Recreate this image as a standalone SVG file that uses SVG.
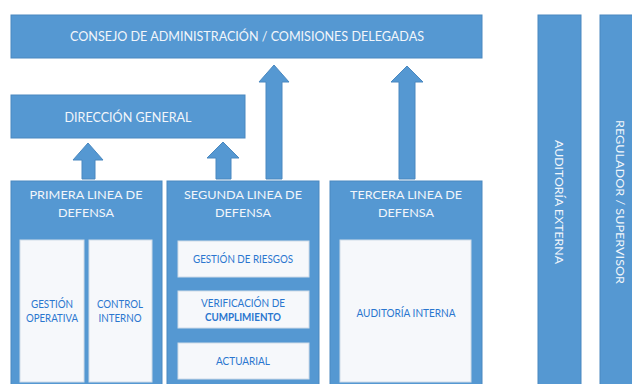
<svg xmlns="http://www.w3.org/2000/svg" width="632" height="384" viewBox="0 0 632 384">
<style>
.blue{fill:#5598d2;stroke:#4a88c0;stroke-width:1}
.inner{fill:#f6f8fb;stroke:#cfdbe8;stroke-width:1}
.arrow{fill:#5598d2;stroke:#4a88c0;stroke-width:1}
.wt{font-family:Lato,"Open Sans",sans-serif;fill:#f2f6fb;text-anchor:middle}
.bt{font-family:Lato,"Open Sans",sans-serif;fill:#2a76cf;text-anchor:middle;font-size:10.5px}
</style>
<rect width="632" height="384" fill="#ffffff"/>
<g id="consejo">
<rect class="blue" x="11" y="15" width="471" height="43"/>
<text class="wt" x="247" y="41" font-size="12.5" textLength="354" lengthAdjust="spacingAndGlyphs">CONSEJO DE ADMINISTRACIÓN / COMISIONES DELEGADAS</text>
</g>
<g id="direccion">
<rect class="blue" x="11" y="95" width="234" height="43"/>
<text class="wt" x="128" y="122" font-size="12.5" textLength="127" lengthAdjust="spacingAndGlyphs">DIRECCIÓN GENERAL</text>
</g>
<g id="primera">
<rect class="blue" x="11" y="181" width="151" height="210"/>
<text class="wt" x="86" y="199" font-size="12" textLength="113" lengthAdjust="spacingAndGlyphs">PRIMERA LINEA DE</text>
<text class="wt" x="86" y="217" font-size="12" textLength="56" lengthAdjust="spacingAndGlyphs">DEFENSA</text>
<g id="gestion-operativa">
<rect class="inner" x="20" y="240" width="64" height="142"/>
<text class="bt" x="52" y="308" textLength="42" lengthAdjust="spacingAndGlyphs">GESTIÓN</text>
<text class="bt" x="52" y="322" textLength="52" lengthAdjust="spacingAndGlyphs">OPERATIVA</text>
</g>
<g id="control-interno">
<rect class="inner" x="89" y="240" width="63" height="142"/>
<text class="bt" x="120" y="308" textLength="46" lengthAdjust="spacingAndGlyphs">CONTROL</text>
<text class="bt" x="120" y="322" textLength="43" lengthAdjust="spacingAndGlyphs">INTERNO</text>
</g>
</g>
<g id="segunda">
<rect class="blue" x="167" y="181" width="152" height="210"/>
<text class="wt" x="243" y="199" font-size="12" textLength="118" lengthAdjust="spacingAndGlyphs">SEGUNDA LINEA DE</text>
<text class="wt" x="243" y="217" font-size="12" textLength="56" lengthAdjust="spacingAndGlyphs">DEFENSA</text>
<g id="gestion-riesgos">
<rect class="inner" x="178" y="241" width="131" height="36"/>
<text class="bt" x="243" y="263" textLength="100" lengthAdjust="spacingAndGlyphs">GESTIÓN DE RIESGOS</text>
</g>
<g id="verificacion">
<rect class="inner" x="178" y="291" width="131" height="37"/>
<text class="bt" x="243" y="307" textLength="84" lengthAdjust="spacingAndGlyphs">VERIFICACIÓN DE</text>
<text class="bt" x="243" y="321" font-weight="bold" textLength="76" lengthAdjust="spacingAndGlyphs">CUMPLIMIENTO</text>
</g>
<g id="actuarial">
<rect class="inner" x="178" y="343" width="131" height="36"/>
<text class="bt" x="243" y="365" textLength="54" lengthAdjust="spacingAndGlyphs">ACTUARIAL</text>
</g>
</g>
<g id="tercera">
<rect class="blue" x="330" y="181" width="152" height="210"/>
<text class="wt" x="406" y="199" font-size="12" textLength="112" lengthAdjust="spacingAndGlyphs">TERCERA LINEA DE</text>
<text class="wt" x="406" y="217" font-size="12" textLength="56" lengthAdjust="spacingAndGlyphs">DEFENSA</text>
<g id="auditoria-interna">
<rect class="inner" x="340" y="240" width="131" height="142"/>
<text class="bt" x="406" y="317" textLength="99" lengthAdjust="spacingAndGlyphs">AUDITORÍA INTERNA</text>
</g>
</g>
<g id="auditoria-externa">
<rect class="blue" x="538" y="15" width="43" height="376"/>
<text class="wt" transform="translate(555 202) rotate(90)" x="0" y="0" font-size="11" textLength="124" lengthAdjust="spacingAndGlyphs">AUDITORÍA EXTERNA</text>
</g>
<g id="regulador">
<rect class="blue" x="600" y="15" width="40" height="376"/>
<text class="wt" transform="translate(616 202) rotate(90)" x="0" y="0" font-size="11" textLength="164" lengthAdjust="spacingAndGlyphs">REGULADOR / SUPERVISOR</text>
</g>
<g id="connectors">
<polygon class="arrow" points="88,143 103,160 95,160 95,179 82,179 82,160 73,160"/>
<polygon class="arrow" points="223,142 239,158 231,158 231,179 216,179 216,158 207,158"/>
<polygon class="arrow" points="274,65 289,82 282,82 282,179 266,179 266,82 259,82"/>
<polygon class="arrow" points="407,66 423,82 415,82 415,179 399,179 399,82 391,82"/>
</g>
</svg>
